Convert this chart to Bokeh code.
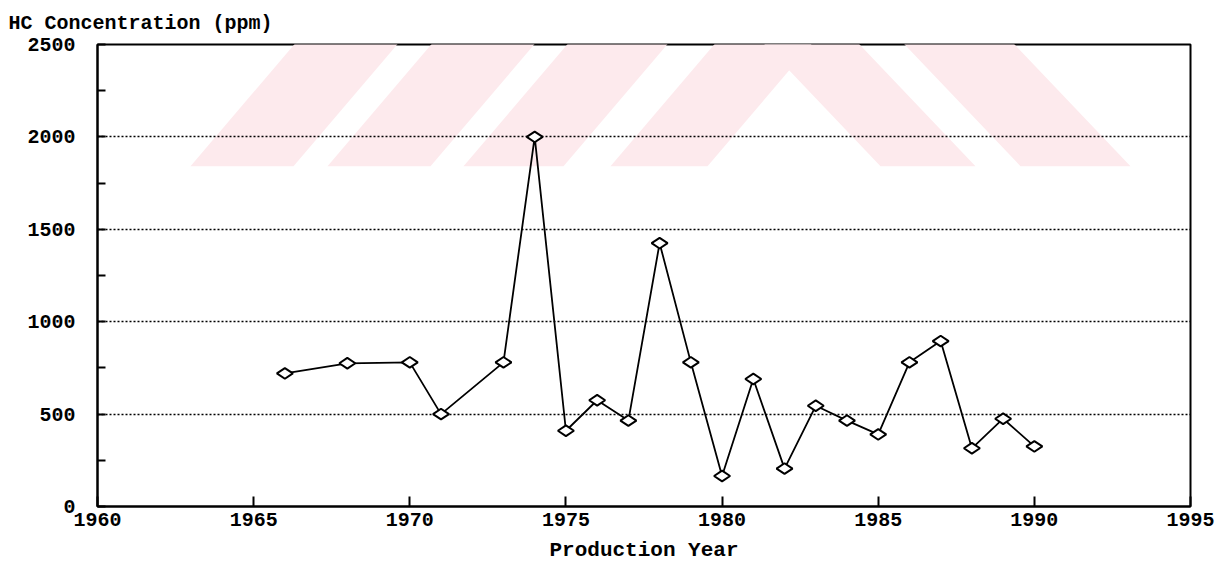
import math
from bokeh.plotting import figure
from bokeh.models import FixedTicker, Range1d
from bokeh.embed import file_html
from bokeh.resources import INLINE

# ---- data ----
years = [1966, 1968, 1970, 1971, 1973, 1974, 1975, 1976, 1977, 1978, 1979,
         1980, 1981, 1982, 1983, 1984, 1985, 1986, 1987, 1988, 1989, 1990]
hc_ppm = [720, 775, 780, 500, 780, 2000, 410, 575, 465, 1425, 780,
          165, 690, 205, 545, 465, 390, 780, 895, 315, 475, 325]

x_ticks = [1960, 1965, 1970, 1975, 1980, 1985, 1990, 1995]
y_ticks = [0, 500, 1000, 1500, 2000, 2500]
y_minor_ticks = [250, 750, 1250, 1750, 2250]
grid_levels = [500, 1000, 1500, 2000]

title_text = "HC Concentration (ppm)"
x_title = "Production Year"

MONO = "Liberation Mono"

W, H = 1230, 566
L, R, T, B = 97, 1190, 43, 506

p = figure(width=W, height=H, output_backend="svg", toolbar_location=None,
           x_range=Range1d(x_ticks[0], x_ticks[-1]),
           y_range=Range1d(y_ticks[0], y_ticks[-1]),
           min_border_left=L, min_border_right=W - R,
           min_border_top=T, min_border_bottom=H - B,
           background_fill_color="white", border_fill_color="white")

# ---- title at the top left ----
p.title.text = title_text
p.title.text_font = MONO
p.title.text_font_size = "20px"
p.title.text_font_style = "bold"
p.title.text_color = "black"
p.title.align = "left"
p.title.offset = -(L - 8)
p.title.standoff = 19

# ---- faint pink watermark (background decoration) ----
def px_to_data(px, py):
    xs = x_ticks[0] + (px - L) / (R - L) * (x_ticks[-1] - x_ticks[0])
    ys = y_ticks[0] + (B - py) / (B - T) * (y_ticks[-1] - y_ticks[0])
    return xs, ys

band_bottom, band_top = 165, 0
wm_xs, wm_ys = [], []
# rising stripes "/"
for left, width in [(190, 103), (327, 103), (463, 100), (610, 97)]:
    dy = band_bottom - band_top
    pts = [(left, band_bottom), (left + width, band_bottom),
           (left + width + 0.85 * dy, band_top), (left + 0.85 * dy, band_top)]
    xs, ys = zip(*[px_to_data(a, b) for a, b in pts])
    wm_xs.append(list(xs)); wm_ys.append(list(ys))
# falling stripes "\"
for left, width in [(880, 95), (1020, 110)]:
    dy = band_bottom - band_top
    pts = [(left, band_bottom), (left + width, band_bottom),
           (left + width - 0.95 * dy, band_top), (left - 0.95 * dy, band_top)]
    xs, ys = zip(*[px_to_data(a, b) for a, b in pts])
    wm_xs.append(list(xs)); wm_ys.append(list(ys))
p.patches(wm_xs, wm_ys, fill_color="#fdeaed", line_color=None, level="image")

# ---- axes ----
p.xaxis.ticker = FixedTicker(ticks=x_ticks)
p.yaxis.ticker = FixedTicker(ticks=y_ticks, minor_ticks=y_minor_ticks)
for ax in (p.xaxis, p.yaxis):
    ax.axis_line_color = "black"
    ax.axis_line_width = 2
    ax.major_tick_line_color = "black"
    ax.major_tick_line_width = 2
    ax.major_tick_out = 0
    ax.minor_tick_out = 0
    ax.major_label_text_font = MONO
    ax.major_label_text_font_size = "20px"
    ax.major_label_text_font_style = "bold"
    ax.major_label_text_color = "black"
p.xaxis.major_tick_in = 10
p.xaxis.minor_tick_line_color = None
p.xaxis.major_label_standoff = 6
p.yaxis.major_tick_in = 8
p.yaxis.minor_tick_in = 8
p.yaxis.minor_tick_line_color = "black"
p.yaxis.minor_tick_line_width = 2
p.yaxis.major_label_standoff = 22

p.xaxis.axis_label = x_title
p.xaxis.axis_label_text_font = MONO
p.xaxis.axis_label_text_font_size = "21px"
p.xaxis.axis_label_text_font_style = "bold"
p.xaxis.axis_label_text_color = "black"
p.xaxis.axis_label_standoff = 10

p.xgrid.grid_line_color = None
p.ygrid.ticker = FixedTicker(ticks=grid_levels)
p.ygrid.grid_line_color = "black"
p.ygrid.grid_line_dash = "2 2"
p.ygrid.grid_line_width = 1.6

p.outline_line_color = "black"
p.outline_line_width = 2

# ---- series ----
p.line(years, hc_ppm, line_color="black", line_width=1.8)
p.scatter(years, hc_ppm, marker="diamond", size=16, angle=math.pi / 2,
          fill_color="white", line_color="black", line_width=2)

open("out.html", "w").write(file_html(p, INLINE))
